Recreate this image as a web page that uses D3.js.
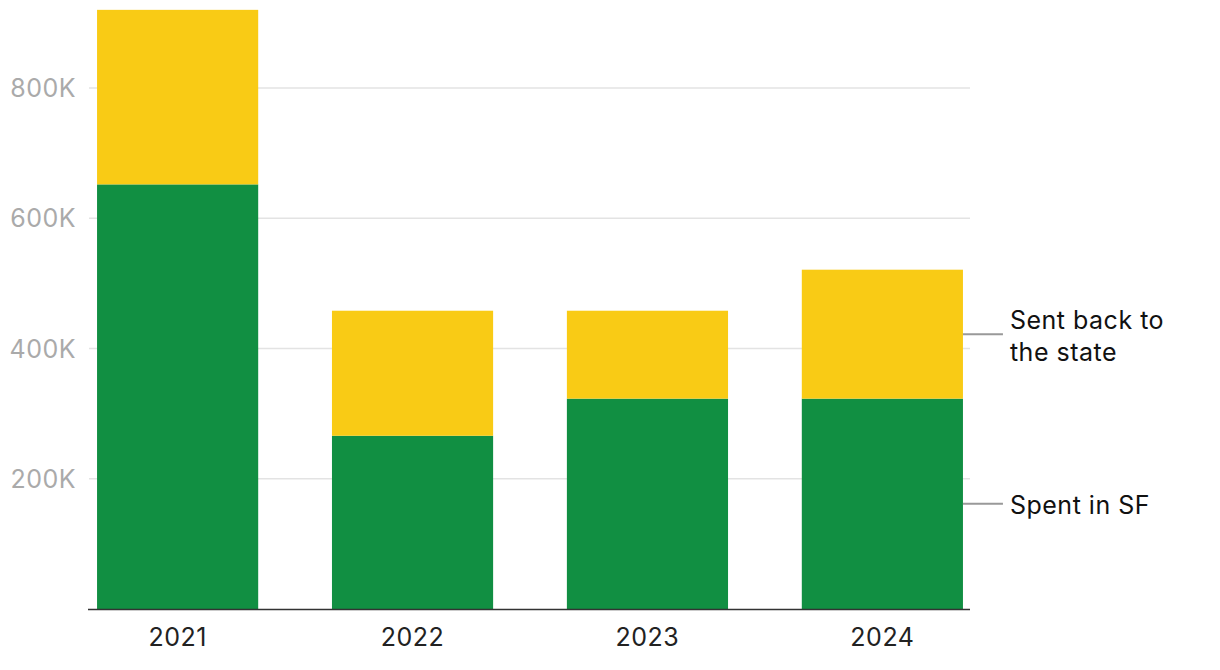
<!DOCTYPE html>
<html><head><meta charset="utf-8">
<script src="https://cdn.jsdelivr.net/npm/d3@7"></script>
<style>body{margin:0;background:#fff;font-family:Inter,"Noto Sans",sans-serif;} text{letter-spacing:0.5px;}</style>
</head><body><svg id="c" width="1220" height="670"></svg>
<script>
const years = ["2021","2022","2023","2024"];
const spentInSF = [652000, 266000, 323000, 323000];
const sentBack = [268000, 192000, 135000, 198000];
const seriesNames = ["Spent in SF","Sent back to the state"];
const yTicks = [200000, 400000, 600000, 800000];
const colors = ["#118F42", "#F9CB15"];

const svg = d3.select("#c");
const x = d3.scaleBand().domain(years).range([90, 970]).paddingInner(0.314).paddingOuter(0.03);
const y = d3.scaleLinear().domain([0, 800000]).range([609, 88]);

const data = years.map((yr,i)=>({year:yr, spent:spentInSF[i], sent:sentBack[i]}));
const stack = d3.stack().keys(["spent","sent"])(data);

// grid
svg.append("g").selectAll("line").data(yTicks).join("line")
  .attr("x1", 89).attr("x2", 970)
  .attr("y1", d=>y(d)).attr("y2", d=>y(d))
  .attr("stroke", "#e3e3e3").attr("stroke-width", 1.5);

// y labels
const fmt = d => (d/1000) + "K";
svg.append("g").selectAll("text").data(yTicks).join("text")
  .attr("x", 76).attr("y", d=>y(d)).attr("dy", "0.36em")
  .attr("text-anchor", "end").attr("fill", "#aaaaaa")
  .attr("font-size", 25).text(fmt);

// bars
svg.append("g").selectAll("g").data(stack).join("g")
  .attr("fill", (d,i)=>colors[i])
  .selectAll("rect").data(d=>d).join("rect")
  .attr("x", d=>x(d.data.year)).attr("width", x.bandwidth())
  .attr("y", d=>y(d[1])).attr("height", d=>y(d[0])-y(d[1]));

// x axis
svg.append("line").attr("x1", 88).attr("x2", 970).attr("y1", 609.5).attr("y2", 609.5)
  .attr("stroke", "#333").attr("stroke-width", 1.5);
svg.append("g").selectAll("text").data(years).join("text")
  .attr("x", d=>x(d)+x.bandwidth()/2).attr("y", 646)
  .attr("text-anchor","middle").attr("fill","#222").attr("font-size",25).text(d=>d);

// series labels on the right, attached to last bar
const last = data.length - 1;
const lblData = stack.map((s,i)=>({name: seriesNames[i], mid: y((s[last][0]+s[last][1])/2)}));
const xEnd = x(years[last]) + x.bandwidth();
const lg = svg.append("g");
lg.selectAll("line").data(lblData).join("line")
  .attr("x1", xEnd).attr("x2", xEnd+40).attr("y1", d=>d.mid).attr("y2", d=>d.mid)
  .attr("stroke", "#999").attr("stroke-width", 2);
const wrap = {"Sent back to the state": ["Sent back to","the state"], "Spent in SF": ["Spent in SF"]};
lg.selectAll("text").data(lblData).join("text")
  .attr("x", xEnd+47).attr("y", d=>d.mid + 1 - (wrap[d.name].length-1)*15)
  .attr("font-size", 25).attr("fill", "#111")
  .each(function(d){
    const t = d3.select(this);
    wrap[d.name].forEach((ln,k)=>{
      t.append("tspan").attr("x", xEnd+47).attr("dy", k===0 ? "0.36em" : 32).text(ln);
    });
  });
</script></body></html>
